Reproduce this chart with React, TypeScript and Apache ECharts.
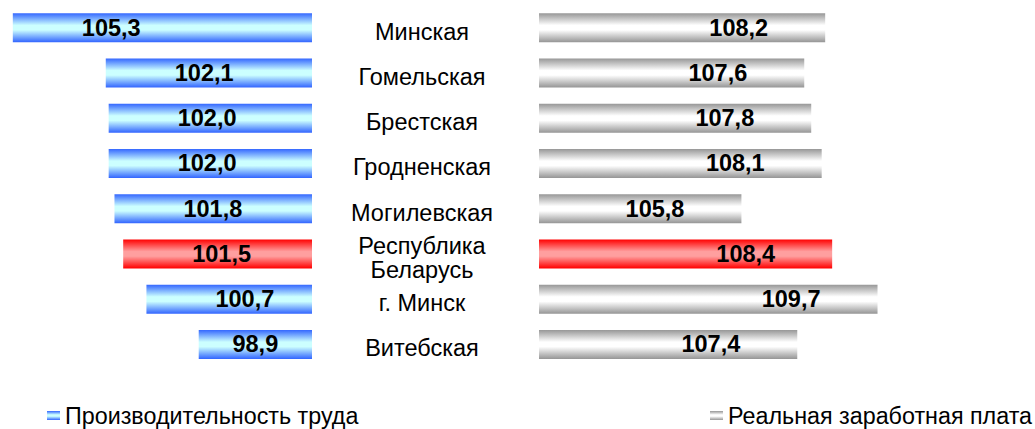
import React, { useEffect, useRef } from "react";
import * as echarts from "echarts";

const categories = [
  "Минская",
  "Гомельская",
  "Брестская",
  "Гродненская",
  "Могилевская",
  "Республика\nБеларусь",
  "г. Минск",
  "Витебская",
];
const productivity = [105.3, 102.1, 102.0, 102.0, 101.8, 101.5, 100.7, 98.9];
const wages = [108.2, 107.6, 107.8, 108.1, 105.8, 108.4, 109.7, 107.4];
const highlightCategory = "Республика\nБеларусь";
const seriesNames = ["Производительность труда", "Реальная заработная плата"];

const FONT = "'Liberation Sans', Arial, sans-serif";

const grad = (edge: string, mid: string) =>
  new echarts.graphic.LinearGradient(0, 0, 0, 1, [
    { offset: 0, color: edge },
    { offset: 0.42, color: mid },
    { offset: 0.58, color: mid },
    { offset: 1, color: edge },
  ]);

const fmt = (p: any) => Number(p.value).toFixed(1).replace(".", ",");

export default function App() {
  const ref = useRef<HTMLDivElement>(null);
  useEffect(() => {
    if (!ref.current) return;
    const chart = echarts.init(ref.current, undefined, { renderer: "svg" });
    const blue = grad("#3366ff", "#ccffff");
    const gray = grad("#969696", "#ffffff");
    const red = grad("#ff0000", "#ff9f9f");
    const leftMin = 95;
    const rightMin = 100;
    const labelBase = {
      show: true,
      color: "#000",
      fontWeight: "bold" as const,
      fontSize: 23.5,
      fontFamily: FONT,
    };
    const legendBase = {
      top: 404,
      padding: 0,
      icon: "rect",
      itemWidth: 13,
      itemHeight: 9,
      textStyle: { fontSize: 23.3, color: "#000", fontFamily: FONT },
    };
    chart.setOption({
      animation: false,
      grid: [
        { left: 7, width: 305, top: 5, height: 362 },
        { left: 539, width: 349, top: 5, height: 362 },
        { left: 312, width: 2, top: 9, height: 362 },
      ],
      xAxis: [
        { type: "value", gridIndex: 0, min: leftMin, max: 105.5, inverse: true, show: false },
        { type: "value", gridIndex: 1, min: rightMin, max: 110, show: false },
        { type: "value", gridIndex: 2, min: 0, max: 1, show: false },
      ],
      yAxis: [
        {
          type: "category",
          gridIndex: 0,
          inverse: true,
          data: categories,
          show: false,
        },
        {
          type: "category",
          gridIndex: 1,
          inverse: true,
          data: categories,
          show: false,
        },
        {
          type: "category",
          gridIndex: 2,
          inverse: true,
          data: categories,
          position: "left",
          axisLine: { show: false },
          axisTick: { show: false },
          splitLine: { show: false },
          axisLabel: {
            align: "center",
            margin: -110,
            fontSize: 23.5,
            lineHeight: 24,
            color: "#000",
            fontFamily: FONT,
          },
        },
      ],
      legend: [
        { ...legendBase, data: [seriesNames[0]], left: 47 },
        { ...legendBase, data: [seriesNames[1]], left: 710 },
      ],
      series: [
        {
          name: seriesNames[0],
          type: "bar",
          xAxisIndex: 0,
          yAxisIndex: 0,
          barWidth: 29,
          itemStyle: { color: blue },
          label: { ...labelBase, position: "insideLeft", distance: 69, formatter: fmt },
          data: productivity.map((v, i) => ({
            value: v,
            itemStyle: categories[i] === highlightCategory ? { color: red } : undefined,
            label: v - leftMin < 5 ? { position: "inside" } : undefined,
          })),
        },
        {
          name: seriesNames[1],
          type: "bar",
          xAxisIndex: 1,
          yAxisIndex: 1,
          barWidth: 29,
          itemStyle: { color: gray },
          label: { ...labelBase, position: "insideRight", distance: 57, formatter: fmt },
          data: wages.map((v, i) => ({
            value: v,
            itemStyle: categories[i] === highlightCategory ? { color: red } : undefined,
          })),
        },
      ],
    });
    return () => chart.dispose();
  }, []);
  return (
    <div
      ref={ref}
      style={{ position: "fixed", left: 0, top: 0, width: 1035, height: 429, background: "#fff" }}
    />
  );
}
